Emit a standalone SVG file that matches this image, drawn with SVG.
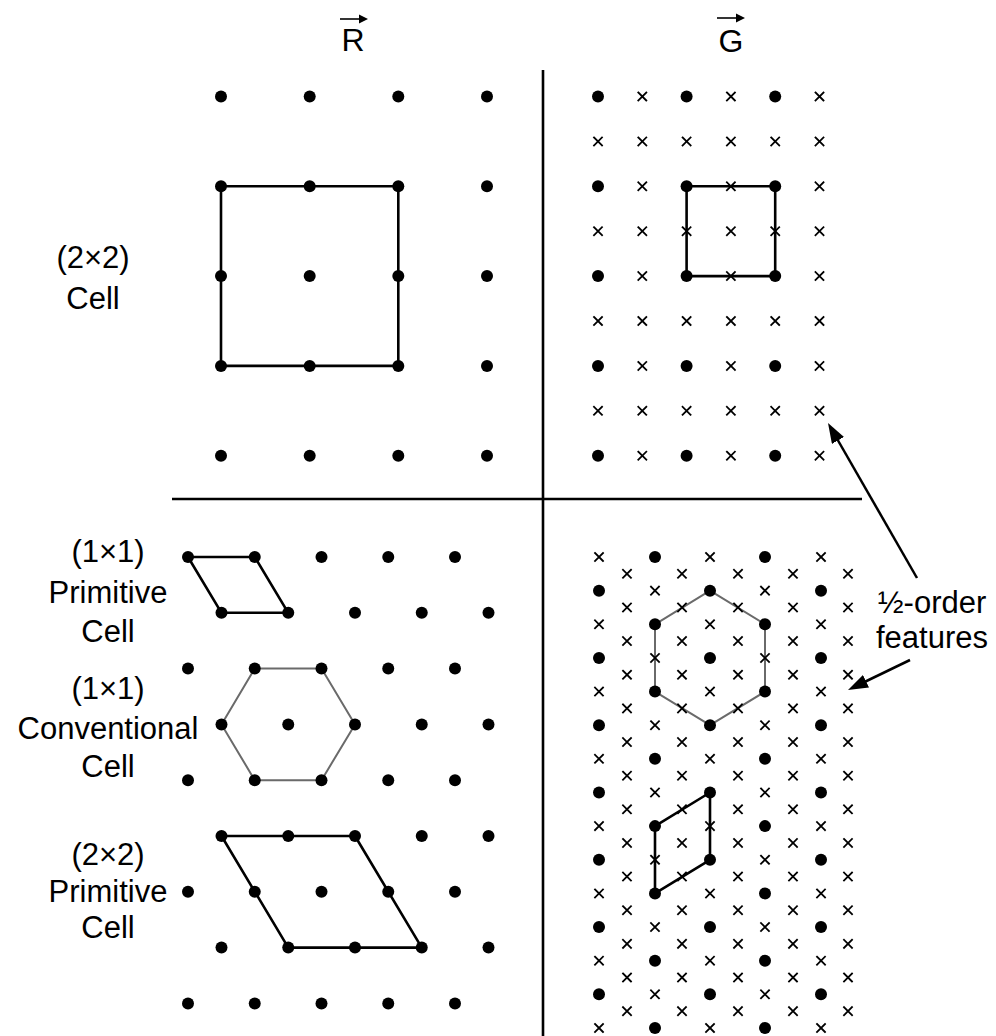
<svg xmlns="http://www.w3.org/2000/svg" xmlns:xlink="http://www.w3.org/1999/xlink" width="996" height="1036" viewBox="0 0 996 1036">
  <style>
    .lbl { font-family: "Liberation Sans", Arial, Helvetica, sans-serif; font-size: 31px; fill: #000; text-anchor: middle; }
    .ttl { font-family: "Liberation Sans", Arial, Helvetica, sans-serif; font-size: 32px; fill: #000; text-anchor: middle; }
    .cell { fill: none; stroke: #000; stroke-width: 2.6; stroke-linejoin: round; }
    .conv { fill: none; stroke: #6a6a6a; stroke-width: 2; stroke-linejoin: round; }
    .rule { stroke: #000; stroke-width: 2.6; fill: none; }
    .xm { stroke: #000; stroke-width: 1.8; fill: none; stroke-linecap: square; }
    .ptr { stroke: #000; stroke-width: 2.5; fill: none; }
    .vec { stroke: #000; stroke-width: 1.6; fill: none; }
  </style>
  <defs>
    <circle id="dot" r="6" fill="#000"/>
    <path id="cross" class="xm" d="M-4,-4L4,4M4,-4L-4,4"/>
    <marker id="head" viewBox="0 0 20 14" refX="12" refY="7" markerWidth="20" markerHeight="14" markerUnits="userSpaceOnUse" orient="auto">
      <path d="M0,0 L20,7 L0,14 Z" fill="#000"/>
    </marker>

    <!-- real-space square lattice: one row of four points -->
    <g id="sqRow">
      <use href="#dot" x="221"/>
      <use href="#dot" x="309.7"/>
      <use href="#dot" x="398.3"/>
      <use href="#dot" x="487"/>
    </g>

    <!-- reciprocal square lattice: integer row + half-order row -->
    <g id="recipEven">
      <use href="#dot" x="598"/>
      <use href="#cross" x="642.3"/>
      <use href="#dot" x="686.6"/>
      <use href="#cross" x="730.9"/>
      <use href="#dot" x="775.2"/>
      <use href="#cross" x="819.5"/>
    </g>
    <g id="recipOdd">
      <use href="#cross" x="598"/>
      <use href="#cross" x="642.3"/>
      <use href="#cross" x="686.6"/>
      <use href="#cross" x="730.9"/>
      <use href="#cross" x="775.2"/>
      <use href="#cross" x="819.5"/>
    </g>
    <g id="recipPair">
      <use href="#recipEven"/>
      <use href="#recipOdd" y="44.9"/>
    </g>

    <!-- real-space hexagonal lattice: two staggered rows -->
    <g id="hexRowA">
      <use href="#dot" x="188"/>
      <use href="#dot" x="254.75"/>
      <use href="#dot" x="321.5"/>
      <use href="#dot" x="388.25"/>
      <use href="#dot" x="455"/>
    </g>
    <g id="hexRowB">
      <use href="#dot" x="221.5"/>
      <use href="#dot" x="288.25"/>
      <use href="#dot" x="355"/>
      <use href="#dot" x="421.75"/>
      <use href="#dot" x="488.5"/>
    </g>
    <g id="hexPair">
      <use href="#hexRowA"/>
      <use href="#hexRowB" y="55.8"/>
    </g>

    <!-- reciprocal hexagonal lattice: four rows, repeated every 67.28 px -->
    <g id="hrX">
      <use href="#cross" x="599"/>
      <use href="#dot" x="655"/>
      <use href="#cross" x="710"/>
      <use href="#dot" x="765"/>
      <use href="#cross" x="821"/>
    </g>
    <g id="hrD">
      <use href="#dot" x="599"/>
      <use href="#cross" x="655"/>
      <use href="#dot" x="710"/>
      <use href="#cross" x="765"/>
      <use href="#dot" x="821"/>
    </g>
    <g id="hrH">
      <use href="#cross" x="627"/>
      <use href="#cross" x="682"/>
      <use href="#cross" x="738"/>
      <use href="#cross" x="793"/>
      <use href="#cross" x="848"/>
    </g>
    <g id="hrBlock">
      <use href="#hrX"/>
      <use href="#hrH" y="16.82"/>
      <use href="#hrD" y="33.64"/>
      <use href="#hrH" y="50.46"/>
    </g>
  </defs>

  <rect width="996" height="1036" fill="#fff"/>

  <!-- column headings -->
  <g id="title-r">
    <text class="ttl" x="353" y="51">R</text>
    <path class="vec" d="M340,19 H364"/>
    <path d="M359,14.5 L368,19 L359,23.5 Z" fill="#000"/>
  </g>
  <g id="title-g">
    <text class="ttl" x="731" y="52">G</text>
    <path class="vec" d="M717,18 H741"/>
    <path d="M736,13.5 L745,18 L736,22.5 Z" fill="#000"/>
  </g>

  <!-- quadrant dividers -->
  <g id="dividers">
    <line class="rule" x1="543" y1="70" x2="543" y2="1036"/>
    <line class="rule" x1="172" y1="499" x2="862" y2="499"/>
  </g>

  <!-- square surface: real space (2x2) cell -->
  <g id="real-square">
    <rect class="cell" x="221" y="186.3" width="177.3" height="179.6"/>
    <use href="#sqRow" y="96.5"/>
    <use href="#sqRow" y="186.3"/>
    <use href="#sqRow" y="276.1"/>
    <use href="#sqRow" y="365.9"/>
    <use href="#sqRow" y="455.7"/>
  </g>

  <!-- square surface: reciprocal space with half-order spots -->
  <g id="recip-square">
    <rect class="cell" x="686.6" y="186.3" width="88.6" height="89.8"/>
    <use href="#recipPair" y="96.5"/>
    <use href="#recipPair" y="186.3"/>
    <use href="#recipPair" y="276.1"/>
    <use href="#recipPair" y="365.9"/>
    <use href="#recipEven" y="455.7"/>
  </g>

  <!-- hexagonal surface: real space cells -->
  <g id="real-hex">
    <polygon class="cell" points="188,557 254.75,557 288.25,612.8 221.5,612.8"/>
    <polygon class="conv" points="254.75,668.6 321.5,668.6 355,724.4 321.5,780.2 254.75,780.2 221.5,724.4"/>
    <polygon class="cell" points="221.5,836 355,836 421.75,947.6 288.25,947.6"/>
    <use href="#hexPair" y="557"/>
    <use href="#hexPair" y="668.6"/>
    <use href="#hexPair" y="780.2"/>
    <use href="#hexPair" y="891.8"/>
    <use href="#hexRowA" y="1003.4"/>
  </g>

  <!-- hexagonal surface: reciprocal space with half-order spots -->
  <g id="recip-hex">
    <polygon class="conv" points="710,590.6 765,624.3 765,691.6 710,725.2 655,691.6 655,624.3"/>
    <polygon class="cell" points="710,792.5 655,826.1 655,893.4 710,859.8"/>
    <use href="#hrBlock" y="557"/>
    <use href="#hrBlock" y="624.28"/>
    <use href="#hrBlock" y="691.56"/>
    <use href="#hrBlock" y="758.84"/>
    <use href="#hrBlock" y="826.12"/>
    <use href="#hrBlock" y="893.4"/>
    <use href="#hrBlock" y="960.68"/>
    <use href="#hrX" y="1028"/>
  </g>

  <!-- cell labels -->
  <g id="label-2x2-cell">
    <text class="lbl" x="93" y="268">(2×2)</text>
    <text class="lbl" x="93" y="309">Cell</text>
  </g>
  <g id="label-1x1-primitive">
    <text class="lbl" x="108" y="562">(1×1)</text>
    <text class="lbl" x="108" y="603">Primitive</text>
    <text class="lbl" x="108" y="642">Cell</text>
  </g>
  <g id="label-1x1-conventional">
    <text class="lbl" x="108" y="699">(1×1)</text>
    <text class="lbl" x="108" y="739">Conventional</text>
    <text class="lbl" x="108" y="777">Cell</text>
  </g>
  <g id="label-2x2-primitive">
    <text class="lbl" x="108" y="865">(2×2)</text>
    <text class="lbl" x="108" y="902">Primitive</text>
    <text class="lbl" x="108" y="938">Cell</text>
  </g>
  <g id="label-half-order">
    <text class="lbl" x="932" y="613">½-order</text>
    <text class="lbl" x="932" y="648">features</text>
  </g>

  <!-- pointers to the half-order spots -->
  <g id="connectors">
    <line class="ptr" x1="917" y1="578" x2="832" y2="430" marker-end="url(#head)"/>
    <line class="ptr" x1="910" y1="660" x2="855.2" y2="686.5" marker-end="url(#head)"/>
  </g>
</svg>
